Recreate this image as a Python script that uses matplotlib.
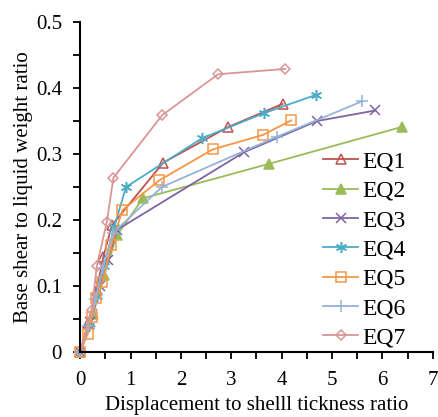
import matplotlib
matplotlib.use("Agg")
import matplotlib.pyplot as plt
from matplotlib.ticker import MultipleLocator, FuncFormatter

plt.rcParams['font.family'] = ['Liberation Serif', 'DejaVu Serif']

# displacement / shell thickness ratio (x) and base shear / liquid weight (y)
eq1_x = [0, 0.16, 0.33, 0.46, 0.63, 1.65, 2.94, 4.02]
eq1_y = [0, 0.044, 0.094, 0.144, 0.192, 0.287, 0.341, 0.376]
eq2_x = [0, 0.26, 0.48, 0.73, 1.25, 3.74, 6.38]
eq2_y = [0, 0.058, 0.117, 0.177, 0.233, 0.285, 0.341]
eq3_x = [0, 0.2, 0.4, 0.55, 0.73, 3.26, 4.7, 5.86]
eq3_y = [0, 0.045, 0.1, 0.14, 0.185, 0.303, 0.35, 0.366]
eq4_x = [0, 0.18, 0.33, 0.47, 0.68, 0.91, 2.42, 3.65, 4.69]
eq4_y = [0, 0.04, 0.085, 0.13, 0.19, 0.25, 0.324, 0.362, 0.39]
eq5_x = [0, 0.15, 0.23, 0.32, 0.44, 0.62, 0.84, 1.57, 2.63, 3.63, 4.19]
eq5_y = [0, 0.027, 0.053, 0.082, 0.106, 0.162, 0.215, 0.26, 0.307, 0.329, 0.351]
eq6_x = [0, 0.15, 0.3, 0.45, 0.65, 1.62, 3.9, 5.6]
eq6_y = [0, 0.04, 0.08, 0.128, 0.18, 0.25, 0.326, 0.38]
eq7_x = [0, 0.23, 0.33, 0.53, 0.66, 1.63, 2.74, 4.07]
eq7_y = [0, 0.064, 0.13, 0.197, 0.264, 0.359, 0.421, 0.429]

series = [
    ('EQ1', eq1_x, eq1_y, '#C0504D', '^', 'none', 7),
    ('EQ2', eq2_x, eq2_y, '#9BBB59', '^', '#9BBB59', 7),
    ('EQ3', eq3_x, eq3_y, '#8064A2', 'x', 'none', 7),
    ('EQ4', eq4_x, eq4_y, '#4BACC6', (6, 2, 0), 'none', 8),
    ('EQ5', eq5_x, eq5_y, '#F79646', 's', 'none', 7),
    ('EQ6', eq6_x, eq6_y, '#95B3D7', '+', 'none', 8),
    ('EQ7', eq7_x, eq7_y, '#D99694', 'D', 'none', 5),
]

fig = plt.figure(figsize=(4.38, 4.17), dpi=100)
ax = fig.add_axes([0.183, 0.156, 0.805, 0.791])

for name, x, y, c, m, fc, ms in series:
    ax.plot(x, y, color=c, marker=m, markerfacecolor=fc, markeredgecolor=c,
            markersize=ms, linewidth=1.3, markeredgewidth=1.1, label=name,
            clip_on=False)

ax.set_xlim(0, 7)
ax.set_ylim(0, 0.5)
ax.xaxis.set_major_locator(MultipleLocator(1))
ax.xaxis.set_minor_locator(MultipleLocator(0.5))
ax.yaxis.set_major_locator(MultipleLocator(0.1))
ax.yaxis.set_minor_locator(MultipleLocator(0.05))
ax.yaxis.set_major_formatter(FuncFormatter(lambda v, p: '0' if abs(v) < 1e-9 else '%.1f' % v))
ax.tick_params(which='both', direction='out', labelsize=15, width=1.3, length=5)
ax.tick_params(axis='x', which='major', pad=9)
ax.tick_params(axis='y', which='major', pad=8)
ax.spines['top'].set_visible(False)
ax.spines['right'].set_visible(False)
ax.spines['left'].set_linewidth(1.5)
ax.spines['bottom'].set_linewidth(1.5)

ax.set_xlabel('Displacement to shelll tickness ratio', fontsize=15, labelpad=4)
ax.set_ylabel('Base shear to liquid weight ratio', fontsize=15, labelpad=2)

ax.legend(loc='upper left', bbox_to_anchor=(0.655, 0.645), frameon=False,
          fontsize=17, handlelength=1.5, labelspacing=0.33, handletextpad=0.15,
          borderpad=0)

fig.savefig('out.png', dpi=100)
